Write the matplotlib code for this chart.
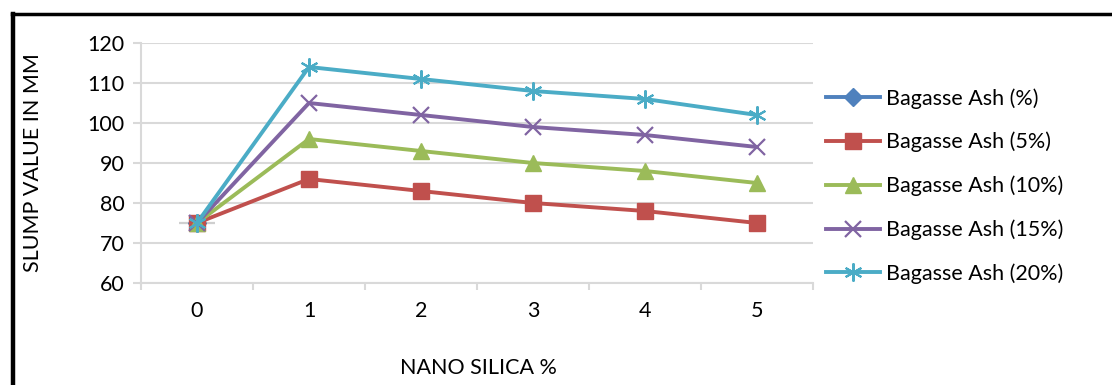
import matplotlib
matplotlib.use('Agg')
import matplotlib.pyplot as plt
from matplotlib.lines import Line2D

# Slump values
nano_silica = [0, 1, 2, 3, 4, 5]
ash_0 = [75]
ash_5 = [75, 86, 83, 80, 78, 75]
ash_10 = [75, 96, 93, 90, 88, 85]
ash_15 = [75, 105, 102, 99, 97, 94]
ash_20 = [75, 114, 111, 108, 106, 102]
y_ticks = [60, 70, 80, 90, 100, 110, 120]

plt.rcParams['font.family'] = ['Lato', 'DejaVu Sans']

fig = plt.figure(figsize=(11.12, 3.85), dpi=100)
fig.patch.set_facecolor('white')
ax = fig.add_axes([141 / 1112, 1 - 283 / 385, 672 / 1112, 240 / 385])

grid_color = '#d9d9d9'
lw = 2.8
fs = 15.5

ax.plot(nano_silica[0], ash_0[0], marker='_', ms=26, mew=1.6, color='#cfcfcf', zorder=2)
ax.plot(nano_silica[:len(ash_0)], ash_0, color='#4F81BD', lw=lw, marker='D', ms=9,
        label='Bagasse Ash (%)', zorder=3)
ax.plot(nano_silica, ash_5, color='#C0504D', lw=lw, marker='s', ms=11,
        label='Bagasse Ash (5%)', zorder=3)
ax.plot(nano_silica, ash_10, color='#9BBB59', lw=lw, marker='^', ms=11,
        label='Bagasse Ash (10%)', zorder=3)
ax.plot(nano_silica, ash_15, color='#8064A2', lw=lw, marker='x', ms=11, mew=1.6,
        label='Bagasse Ash (15%)', zorder=3)
ax.plot(nano_silica, ash_20, color='#4BACC6', lw=lw, marker=(6, 2, 0), ms=13, mew=1.5,
        label='Bagasse Ash (20%)', zorder=3)

ax.set_xlim(-0.5, 5.5)
ax.set_ylim(60, 120)
ax.set_yticks(y_ticks)
ax.set_xticks(nano_silica)
ax.set_xticks([i - 0.5 for i in range(7)], minor=True)
ax.yaxis.grid(True, color=grid_color, lw=1.5)
ax.set_axisbelow(True)

for side in ['top', 'right']:
    ax.spines[side].set_visible(False)
for side in ['left', 'bottom']:
    ax.spines[side].set_color(grid_color)
    ax.spines[side].set_linewidth(1.5)

ax.tick_params(axis='y', length=6, width=1.5, color=grid_color, labelsize=fs,
               pad=6, labelcolor='black')
ax.tick_params(axis='x', which='major', length=0, labelsize=fs, pad=13, labelcolor='black')
ax.tick_params(axis='x', which='minor', length=5, width=1.5, color=grid_color)

fig.text(33 / 1112, 1 - 163 / 385, 'SLUMP VALUE IN MM', rotation=90, ha='center',
         va='center', fontsize=fs)
fig.text(478 / 1112, 1 - 368 / 385, 'NANO SILICA %', ha='center', va='center', fontsize=fs)

fig.legend(loc='center left', bbox_to_anchor=(826 / 1112, 1 - 186 / 385), frameon=False,
           fontsize=fs, handlelength=2.5, handletextpad=0.28, labelspacing=1.08,
           borderaxespad=0, borderpad=0)

# black frame
fig.add_artist(Line2D([13 / 1112, 13 / 1112], [0, 1 - 14 / 385], color='black', lw=3.2,
                      transform=fig.transFigure))
fig.add_artist(Line2D([12 / 1112, 1], [1 - 14 / 385, 1 - 14 / 385], color='black', lw=2.5,
                      transform=fig.transFigure))

fig.savefig('out.png', dpi=100, facecolor='white')
plt.close(fig)
